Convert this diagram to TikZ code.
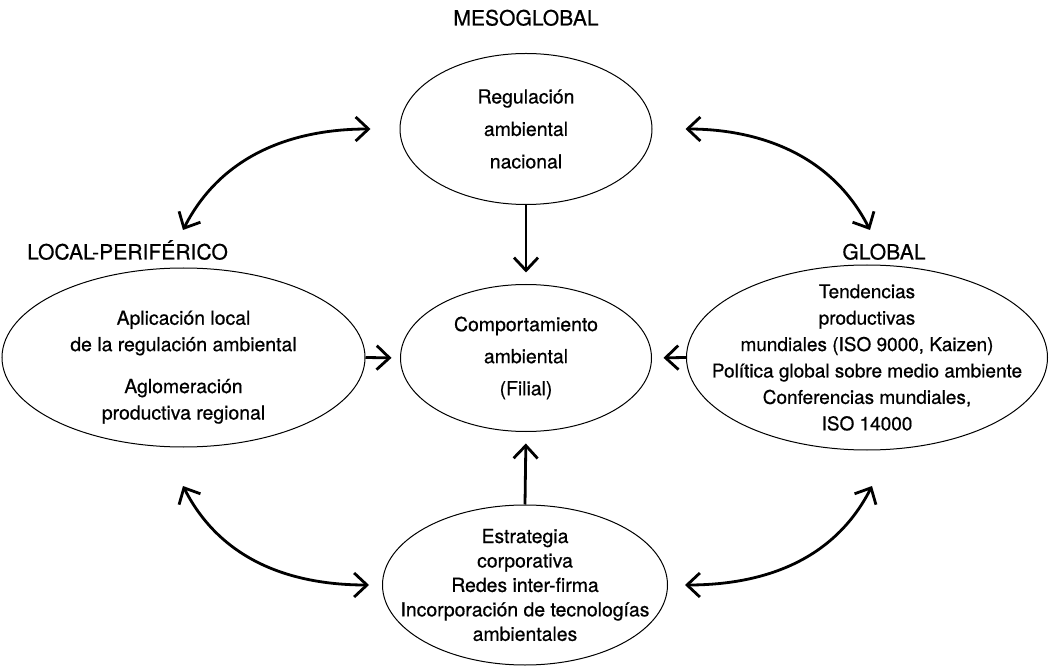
\documentclass[tikz,border=0pt]{standalone}
\usepackage{fontspec}
\setmainfont{TeX Gyre Heros}[FakeBold=0.6]
\usetikzlibrary{positioning, arrows.meta, shapes.geometric}

\def\raster{0.25mm}

\tikzset{
    zone/.style={ellipse, draw=black, line width=0.25mm, inner sep=-25mm, align=center},
    level/.style={anchor=base, font=\fontsize{15}{18}\selectfont},
    flow/.style={-{Straight Barb[length=3.2mm,width=6mm]}, line width=0.7mm},
    dflow/.style={{Straight Barb[length=3.2mm,width=6mm]}-{Straight Barb[length=3.2mm,width=6mm]}, line width=0.7mm},
}

\begin{document}
\begin{tikzpicture}
    \useasboundingbox (0mm, 0mm) rectangle (1050*\raster, 667*\raster);

    % free ends of the curved arrows
    \coordinate (LT) at (183*\raster, 437*\raster);
    \coordinate (RT) at (870*\raster, 437*\raster);
    \coordinate (LB) at (183*\raster, 181*\raster);
    \coordinate (RB) at (872*\raster, 181*\raster);

    % ellipses
    \node[zone, minimum width=252*\raster, minimum height=151*\raster,
          font=\fontsize{13.8}{23.1}\selectfont] (meso) at (526*\raster, 538*\raster)
        {Regulación\\ambiental\\nacional};
    \node[zone, minimum width=251*\raster, minimum height=147*\raster,
          font=\fontsize{13.8}{22.8}\selectfont] (filial) at (526*\raster, 309*\raster)
        {Comportamiento\\ambiental\\(Filial)};
    \node[zone, minimum width=363*\raster, minimum height=179*\raster,
          font=\fontsize{13.8}{18.8}\selectfont] (local) at (183.5*\raster, 309.5*\raster)
        {\raisebox{-3.6mm}[0pt][0pt]{\begin{tabular}{@{}c@{}}Aplicación local\\de la regulación ambiental\\[11pt]Aglomeración\\productiva regional\end{tabular}}};
    \node[zone, minimum width=361*\raster, minimum height=185*\raster,
          font=\fontsize{13.5}{18.8}\selectfont] (global) at (867*\raster, 309.5*\raster)
        {Tendencias\\productivas\\mundiales (ISO 9000, Kaizen)\\Política global sobre medio ambiente\\Conferencias mundiales,\\ISO 14000};
    \node[zone, minimum width=285*\raster, minimum height=160*\raster,
          font=\fontsize{13.8}{17.4}\selectfont] (strat) at (525*\raster, 82*\raster)
        {Estrategia\\corporativa\\Redes inter-firma\\Incorporación de tecnologías\\ambientales};

    % levels
    \node[level] (lmeso) at (526*\raster, 641.5*\raster) {MESOGLOBAL};
    \node[level] (llocal) at (127.5*\raster, 407.5*\raster) {LOCAL-PERIFÉRICO};
    \node[level] (lglobal) at (884*\raster, 407.5*\raster) {GLOBAL};

    % straight arrows into the subsidiary
    \draw[flow, shorten >=11.5*\raster] (meso.south) -- (filial.north);
    \draw[flow, shorten >=11.5*\raster] (strat.north) -- (filial.south);
    \draw[flow, shorten >=8.5*\raster] (local.east) -- (filial.west);
    \draw[flow, shorten >=11.5*\raster] (global.west) -- (filial.east);

    % curved arrows
    \foreach \from/\target/\aout/\ain/\gap in {
        LT/meso.west/63/180/29,
        RT/meso.east/117/0/33,
        LB/strat.west/-63/180/13,
        RB/strat.east/-117/0/17}
    {
        \draw[dflow, shorten >=\gap*\raster] (\from) to[out=\aout, in=\ain] (\target);
    }
\end{tikzpicture}
\end{document}
